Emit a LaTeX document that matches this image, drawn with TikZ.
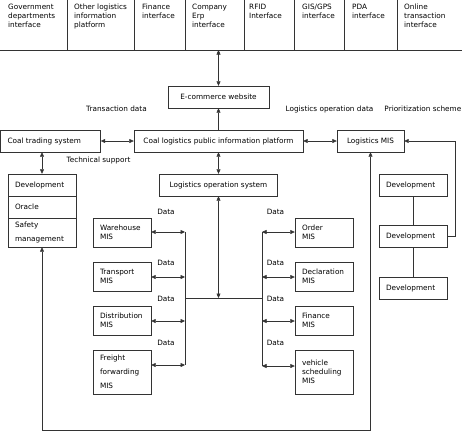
\documentclass[tikz,border=0pt]{standalone}
\usepackage{fontspec}
\setmainfont{DejaVu Sans}
\usetikzlibrary{arrows.meta}
\tikzset{
	>={Triangle[length=4.5pt,width=4pt]},
	every node/.style={font=\fontsize{7.3}{9}\selectfont},
	box/.style={draw=black!80,inner sep=0pt,minimum height=22pt},
	lbox/.style={box,align=left,inner xsep=7pt,text width=#1},
	wide/.style={font=\fontsize{7.3}{14}\selectfont},
	toptxt/.style={anchor=north west,align=left,inner sep=0pt},
	link/.style={draw=black!80,line width=.5pt}
}
\begin{document}
\begin{tikzpicture}[x=1pt,y=-1pt]
	\useasboundingbox (0,0) rectangle (462,434);
	% interfaces
	\draw[link] (-2,50)--(464,50);
	\foreach \x in {67,134,185,244,294,344,397} \draw[link] (\x,-2)--(\x,50);
	\node[toptxt] (tgov) at (8,4) {Government\\departments\\interface};
	\node[toptxt] (toth) at (74,4) {Other logistics\\information\\platform};
	\node[toptxt] (tfin) at (142,4) {Finance\\interface};
	\node[toptxt] (terp) at (192,4) {Company\\Erp\\interface};
	\node[toptxt] (trfid) at (249,4) {RFID\\Interface};
	\node[toptxt] (tgis) at (302,4) {GIS/GPS\\interface};
	\node[toptxt] (tpda) at (352,4) {PDA\\interface};
	\node[toptxt] (tonl) at (404,4) {Online\\transaction\\interface};
	\coordinate (topin) at (218.5,50);
	% main boxes
	\node[box,minimum width=101] (ecom) at (218.5,97) {E-commerce website};
	\node[box,minimum width=169] (plat) at (218.5,141) {Coal logistics public information platform};
	\node[lbox=86pt] (cts) at (50.5,141) {Coal trading system};
	\node[box,minimum width=67] (lmis) at (370.5,141) {Logistics MIS};
	\node[box,minimum width=118] (los) at (218.5,185) {Logistics operation system};
	\node[lbox=54pt] (ldev) at (42,185) {Development};
	\node[lbox=54pt] (lora) at (42,207) {Oracle};
	\node[lbox=54pt,minimum height=29,wide] (lsafe) at (42,232.5) {Safety\\management};
	\node[lbox=54pt] (rdev1) at (413,185) {Development};
	\node[lbox=54pt] (rdev2) at (413,236) {Development};
	\node[lbox=54pt] (rdev3) at (413,288) {Development};
	% MIS boxes
	\node[lbox=44pt,minimum height=29] (whmis) at (122,232.5) {Warehouse\\MIS};
	\node[lbox=44pt,minimum height=29] (trmis) at (122,276.5) {Transport\\MIS};
	\node[lbox=44pt,minimum height=29] (dimis) at (122,320.5) {Distribution\\MIS};
	\node[lbox=44pt,minimum height=44,wide] (ffmis) at (122,372) {Freight\\forwarding\\MIS};
	\node[lbox=44pt,minimum height=29] (ormis) at (324,232.5) {Order\\MIS};
	\node[lbox=44pt,minimum height=29] (demis) at (324,276.5) {Declaration\\MIS};
	\node[lbox=44pt,minimum height=29] (fimis) at (324,320.5) {Finance\\MIS};
	\node[lbox=44pt,minimum height=44] (vsmis) at (324,372) {vehicle\\scheduling\\MIS};
	% labels
	\node (ltrans) at (116.5,109) {Transaction data};
	\node (lopdat) at (329.5,109) {Logistics operation data};
	\node[anchor=east,inner sep=0pt] (lprio) at (461.5,109) {Prioritization scheme};
	\node (ltech) at (98.5,160) {Technical support};
	\foreach \y in {212,263,299,343}{
		\node at (166,\y) {Data};
		\node at (275.5,\y) {Data};
	}
	% connectors
	\draw[link,<->] (ecom.north |- topin)--(ecom.north);
	\draw[link,->] (plat)--(ecom);
	\draw[link,<->] (cts)--(plat);
	\draw[link,<->] (plat)--(lmis);
	\draw[link,<->] (plat)--(los);
	\draw[link,<->] (ldev.north |- cts.south)--(ldev.north);
	\draw[link] (rdev1)--(rdev2)--(rdev3);
	\coordinate (rloop) at (455,0);
	\draw[link,->] (rdev2.east)-|(rloop |- lmis.east)--(lmis.east);
	\coordinate (bloop) at (200,430);
	\draw[link,<->] (lsafe.south)--(lsafe.south |- bloop)-|(lmis.south);
	% buses
	\coordinate (hub) at (218.5,298);
	\coordinate (lb1) at (185,232); \coordinate (lb2) at (185,277);
	\coordinate (lb3) at (185,321); \coordinate (lb4) at (185,365);
	\coordinate (rb1) at (262,232); \coordinate (rb2) at (262,277);
	\coordinate (rb3) at (262,321); \coordinate (rb4) at (262,366);
	\draw[link] (lb1)--(lb4) (rb1)--(rb4) (lb1 |- hub)--(rb1 |- hub);
	\draw[link,<->] (los)--(hub);
	\draw[link,<->] (lb1 -| whmis.east)--(lb1);
	\draw[link,<->] (lb2 -| trmis.east)--(lb2);
	\draw[link,<->] (lb3 -| dimis.east)--(lb3);
	\draw[link,<->] (lb4 -| ffmis.east)--(lb4);
	\draw[link,<->] (rb1)--(rb1 -| ormis.west);
	\draw[link,<->] (rb2)--(rb2 -| demis.west);
	\draw[link,<->] (rb3)--(rb3 -| fimis.west);
	\draw[link,<->] (rb4)--(rb4 -| vsmis.west);
\end{tikzpicture}
\end{document}
